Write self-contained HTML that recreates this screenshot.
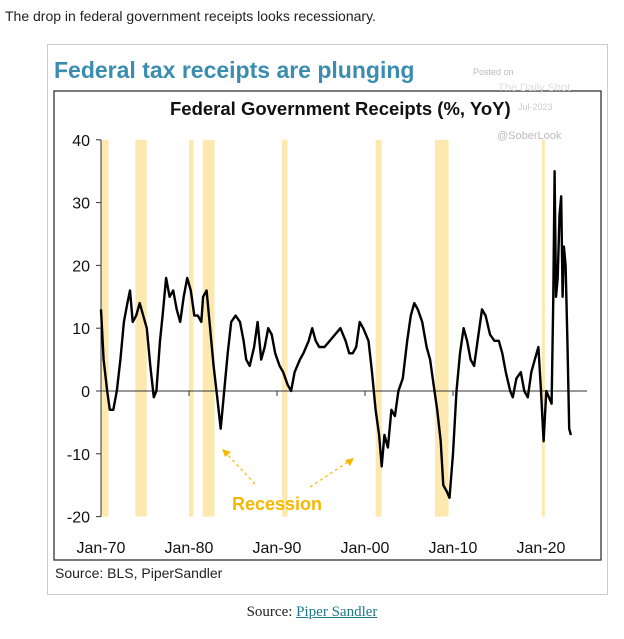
<!DOCTYPE html>
<html><head><meta charset="utf-8"><style>
body{margin:0;width:624px;height:639px;background:#fff;position:relative;overflow:hidden;font-family:"Liberation Sans",sans-serif}
.a{position:absolute;white-space:nowrap}
</style></head><body>
<div class="a" style="left:5px;top:8px;font-size:14px;color:#222">The drop in federal government receipts looks recessionary.</div>
<div class="a" style="left:47px;top:44px;width:559px;height:549px;border:1px solid #ccc"></div>
<svg class="a" style="left:0;top:0" width="624" height="639">
<rect x="54" y="91" width="547" height="469" fill="none" stroke="#333" stroke-width="1.3"/>
<g id="bands"></g>
<g id="axes"></g>
<path id="line" fill="none" stroke="#000" stroke-width="2.4" stroke-linejoin="round"/>
<text x="54" y="78" font-size="23" font-weight="bold" fill="#3b8db0">Federal tax receipts are plunging</text>
<text x="170" y="115" font-size="18.5" font-weight="bold" fill="#111">Federal Government Receipts (%, YoY)</text>
<text x="473" y="75" font-size="9" fill="#bbb">Posted on</text>
<text x="498" y="91" font-size="11" fill="#ddd">The Daily Shot</text>
<text x="518" y="110" font-size="9" fill="#ccc">Jul-2023</text>
<text x="497" y="139" font-size="11" fill="#bbb">@SoberLook</text>
<text x="232" y="510" font-size="18" font-weight="bold" fill="#f5b700">Recession</text>
<line x1="255" y1="484" x2="225" y2="452" stroke="#f5b700" stroke-dasharray="3,3" stroke-width="1.2"/>
<polygon points="222,449 231,452 225,457" fill="#f5b700"/>
<line x1="310" y1="487" x2="351" y2="460" stroke="#f5b700" stroke-dasharray="3,3" stroke-width="1.2"/>
<polygon points="354,458 345,460 350,466" fill="#f5b700"/>
<text x="55" y="578" font-size="14" fill="#222">Source: BLS, PiperSandler</text>
</svg>
<div class="a" style="left:0;width:624px;text-align:center;top:604px;font-family:'Liberation Serif',serif;font-size:15px;color:#222">Source: <span style="color:#1a7a8a;text-decoration:underline">Piper Sandler</span></div>
<script>
const yTicks=[40,30,20,10,0,-10,-20];
const xTickYears=[1970,1980,1990,2000,2010,2020];
const xTickLabels=["Jan-70","Jan-80","Jan-90","Jan-00","Jan-10","Jan-20"];
const recStart=[1969.95,1973.9,1980.0,1981.55,1990.55,2001.2,2007.95,2020.1];
const recEnd=[1970.85,1975.2,1980.5,1982.9,1991.2,2001.9,2009.5,2020.35];
const years=[1970.0,1970.3,1970.7,1971.0,1971.4,1971.8,1972.2,1972.6,1973.0,1973.3,1973.6,1974.0,1974.4,1974.8,1975.2,1975.6,1976.0,1976.3,1976.7,1977.0,1977.4,1977.8,1978.2,1978.6,1979.0,1979.4,1979.8,1980.2,1980.6,1981.0,1981.4,1981.6,1982.0,1982.4,1982.8,1983.2,1983.6,1984.0,1984.4,1984.8,1985.3,1985.8,1986.2,1986.5,1986.9,1987.4,1987.8,1988.2,1988.6,1989.0,1989.4,1989.8,1990.3,1990.7,1991.2,1991.6,1992.0,1992.6,1993.0,1993.6,1994.0,1994.4,1994.8,1995.4,1996.0,1996.6,1997.2,1997.8,1998.2,1998.6,1999.0,1999.4,1999.8,2000.4,2000.8,2001.2,2001.6,2001.9,2002.2,2002.6,2003.0,2003.4,2003.8,2004.3,2004.8,2005.2,2005.6,2006.0,2006.5,2007.0,2007.4,2007.8,2008.2,2008.6,2008.9,2009.3,2009.6,2010.0,2010.4,2010.8,2011.2,2011.6,2012.0,2012.4,2012.8,2013.3,2013.7,2014.2,2014.7,2015.2,2015.6,2016.0,2016.5,2016.8,2017.2,2017.7,2018.1,2018.5,2018.9,2019.3,2019.7,2020.0,2020.3,2020.6,2020.9,2021.2,2021.4,2021.55,2021.7,2021.9,2022.1,2022.3,2022.45,2022.6,2022.8,2023.0,2023.2,2023.4];
const values=[13,5,0,-3,-3,0,5,11,14,16,11,12,14,12,10,4,-1,0,8,12,18,15,16,13,11,15,18,16,12,12,11,15,16,10,4,-1,-6,0,6,11,12,11,8,5,4,7,11,5,7,10,9,6,4,3,1,0,3,5,6,8,10,8,7,7,8,9,10,8,6,6,7,11,10,8,3,-3,-7,-12,-7,-9,-3,-4,0,2,8,12,14,13,11,7,5,1,-3,-8,-15,-16,-17,-10,0,6,10,8,5,4,8,13,12,9,8,8,6,3,0,-1,2,3,0,-1,3,5,7,0,-8,0,-1,-2,15,35,15,18,28,31,15,23,20,8,-6,-7];
const NS="http://www.w3.org/2000/svg";
function X(yr){return 101+(yr-1970)*8.8;}
function Y(v){return 391-v*6.28;}
const bands=document.getElementById('bands'),axes=document.getElementById('axes');
for(let i=0;i<recStart.length;i++){
 const r=document.createElementNS(NS,'rect');
 r.setAttribute('x',X(recStart[i]));r.setAttribute('y',Y(40));
 r.setAttribute('width',Math.max(3,X(recEnd[i])-X(recStart[i])));r.setAttribute('height',Y(-20)-Y(40));
 r.setAttribute('fill','#fde9b0');
 
 
 bands.appendChild(r);
}
function ln(x1,y1,x2,y2,w,n){const l=document.createElementNS(NS,'line');l.setAttribute('x1',x1);l.setAttribute('y1',y1);l.setAttribute('x2',x2);l.setAttribute('y2',y2);l.setAttribute('stroke','#333');l.setAttribute('stroke-width',w);
 
 
 axes.appendChild(l);}
ln(X(1970),Y(40),X(1970),Y(-20),1,'y-axis');
ln(X(1970),Y(0),587,Y(0),1,'zero-line');
yTicks.forEach(v=>{ln(X(1970)-5,Y(v),X(1970),Y(v),1,'y-tick');
 const t=document.createElementNS(NS,'text');t.setAttribute('x',90);t.setAttribute('y',Y(v)+6);t.setAttribute('text-anchor','end');t.setAttribute('font-size','16');t.setAttribute('fill','#111');t.textContent=v;
 
 
 axes.appendChild(t);});
xTickYears.forEach((yr,i)=>{ln(X(yr),Y(0),X(yr),Y(0)+5,1,'x-tick');
 const t=document.createElementNS(NS,'text');t.setAttribute('x',X(yr));t.setAttribute('y',553);t.setAttribute('text-anchor','middle');t.setAttribute('font-size','16');t.setAttribute('fill','#111');t.textContent=xTickLabels[i];
 
 
 axes.appendChild(t);});
document.getElementById('line').setAttribute('d',years.map((yr,i)=>(i?'L':'M')+X(yr).toFixed(1)+','+Y(values[i]).toFixed(1)).join(''));
</script>
</body></html>
